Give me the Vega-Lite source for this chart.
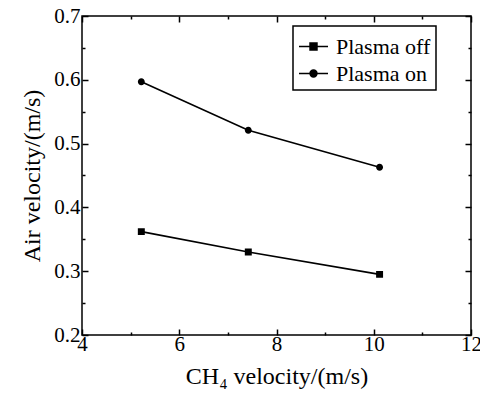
{
  "$schema": "https://vega.github.io/schema/vega-lite/v6.json",
  "autosize": {"type": "none"},
  "padding": {"left": 82, "top": 16, "right": 9, "bottom": 60},
  "width": 389,
  "height": 319,
  "background": "white",
  "config": {
    "font": "Liberation Serif",
    "view": {"stroke": "black", "strokeWidth": 1.5},
    "axis": {"grid": false, "domain": false, "tickColor": "black", "tickWidth": 1.5, "labelColor": "black", "titleColor": "black", "labelFont": "Liberation Serif", "titleFont": "Liberation Serif", "labelFontSize": 21, "titleFontSize": 24, "titleFontWeight": "normal", "labelFlush": false},
    "legend": {"labelFont": "Liberation Serif", "labelFontSize": 22, "labelColor": "black"}
  },
  "data": {"values": [
    {"ch4": 5.22, "air": 0.362, "series": "Plasma off"},
    {"ch4": 7.42, "air": 0.330, "series": "Plasma off"},
    {"ch4": 10.12, "air": 0.295, "series": "Plasma off"},
    {"ch4": 5.22, "air": 0.597, "series": "Plasma on"},
    {"ch4": 7.42, "air": 0.521, "series": "Plasma on"},
    {"ch4": 10.12, "air": 0.463, "series": "Plasma on"}
  ]},
  "resolve": {"axis": {"x": "independent", "y": "independent"}},
  "layer": [
    {
      "mark": {"type": "line", "strokeWidth": 1.6},
      "encoding": {
        "x": {"field": "ch4", "type": "quantitative", "scale": {"domain": [4, 12], "nice": false, "zero": false},
              "axis": {"orient": "bottom", "values": [4, 6, 8, 10, 12], "tickSize": -6, "labelPadding": 4, "title": "CH₄ velocity/(m/s)", "titlePadding": 10}},
        "y": {"field": "air", "type": "quantitative", "scale": {"domain": [0.2, 0.7], "nice": false, "zero": false},
              "axis": {"orient": "left", "values": [0.2, 0.3, 0.4, 0.5, 0.6, 0.7], "format": ".1f", "tickSize": -6, "labelPadding": 8, "title": "Air velocity/(m/s)", "titlePadding": 9}},
        "color": {"field": "series", "type": "nominal", "scale": {"domain": ["Plasma off", "Plasma on"], "range": ["black", "black"]},
          "legend": {"title": null, "orient": "none", "legendX": 211, "legendY": 10, "strokeColor": "black", "padding": 5, "rowPadding": -2, "labelOffset": 7, "symbolSize": 841,
            "encode": {"legend": {"update": {"strokeWidth": {"value": 1.5}}}, "symbols": {"update": {"fill": {"value": "black"}, "stroke": {"value": "black"}, "strokeWidth": {"value": 1.5}, "opacity": {"value": 1}}}}}}
      }
    },
    {
      "mark": {"type": "point", "filled": true, "color": "black", "opacity": 1, "size": 841},
      "encoding": {
        "x": {"field": "ch4", "type": "quantitative", "axis": {"orient": "top", "values": [4, 6, 8, 10, 12], "tickSize": -6, "labels": false, "title": null}},
        "y": {"field": "air", "type": "quantitative", "axis": {"orient": "right", "values": [0.2, 0.3, 0.4, 0.5, 0.6, 0.7], "tickSize": -6, "labels": false, "title": null}},
        "shape": {"field": "series", "type": "nominal",
          "scale": {"domain": ["Plasma off", "Plasma on"], "range": ["M-1,0H1M-0.24,-0.24H0.24V0.24H-0.24Z", "M-1,0H1M0.24,0A0.24,0.24 0 1,1 -0.24,0A0.24,0.24 0 1,1 0.24,0Z"]},
          "legend": {"title": null, "orient": "none", "legendX": 211, "legendY": 10, "strokeColor": "black", "padding": 5, "rowPadding": -2, "labelOffset": 7, "symbolSize": 841,
            "encode": {"legend": {"update": {"strokeWidth": {"value": 1.5}}}, "symbols": {"update": {"fill": {"value": "black"}, "stroke": {"value": "black"}, "strokeWidth": {"value": 1.5}, "opacity": {"value": 1}}}}}
        }
      }
    },
    {
      "mark": {"type": "line", "opacity": 0},
      "encoding": {
        "x": {"field": "ch4", "type": "quantitative", "axis": {"orient": "bottom", "values": [5, 7, 9, 11], "tickSize": -3, "labels": false, "title": null}},
        "y": {"field": "air", "type": "quantitative", "axis": {"orient": "left", "values": [0.25, 0.35, 0.45, 0.55, 0.65], "tickSize": -3, "labels": false, "title": null}},
        "detail": {"field": "series"}
      }
    },
    {
      "mark": {"type": "line", "opacity": 0},
      "encoding": {
        "x": {"field": "ch4", "type": "quantitative", "axis": {"orient": "top", "values": [5, 7, 9, 11], "tickSize": -3, "labels": false, "title": null}},
        "y": {"field": "air", "type": "quantitative", "axis": {"orient": "right", "values": [0.25, 0.35, 0.45, 0.55, 0.65], "tickSize": -3, "labels": false, "title": null}},
        "detail": {"field": "series"}
      }
    }
  ]
}
